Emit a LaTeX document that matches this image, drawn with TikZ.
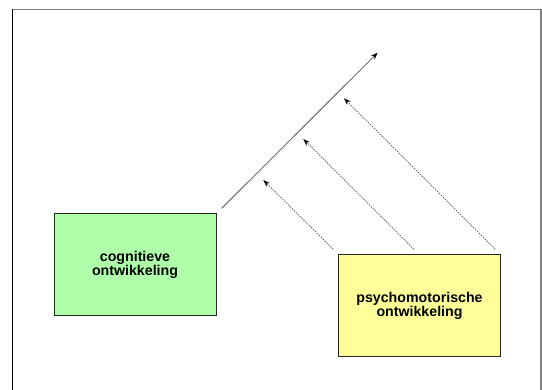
\documentclass[tikz,border=0pt]{standalone}
\usepackage{fontspec}
\setmainfont{Liberation Sans}
\usetikzlibrary{arrows.meta}
\usetikzlibrary{positioning}
\tikzset{box/.style = {draw=black!85, line width=1pt,
                       minimum width=162pt, minimum height=102pt,
                       inner sep=0pt, align=center,
                       font=\fontsize{14.2}{14.7}\selectfont\bfseries},
         growth/.style = {draw=black!65, line width=0.8pt,
                          -{Stealth[length=7pt, width=5pt, black]}},
         influence/.style = {draw=black!70, line width=0.7pt,
                             dash pattern=on 1.5pt off 1.2pt,
                             -{Stealth[length=7pt, width=5pt, black]}}}
\definecolor{mgreen}{RGB}{175, 255, 170}
\definecolor{myellow}{RGB}{255, 255, 153}

\begin{document}
\begin{tikzpicture}[x=1pt, y=-1pt]
    \useasboundingbox (0, 0) rectangle (542, 390);
    \draw [black!50, line width=1.5pt] (12.5, 9.5) -- (541, 9.5) -- (541, 395);
    \draw [black, line width=1.5pt] (12.5, 9.5) -- (12.5, 395);

    \node [box, fill=mgreen] (cognitief) at (135, 265) {cognitieve\\ontwikkeling};
    \node [box, fill=myellow] (psycho) at (419.5, 306) {psychomotorische\\ontwikkeling};

    \coordinate (start) at (221.7, 208.3);
    \coordinate (top) at (377.7, 52.7);
    \draw [growth] (start) -- (top);

    \coordinate (s1) at (333.3, 249.3);
    \coordinate (s2) at (414, 249.3);
    \coordinate (s3) at (495.3, 249.3);
    \coordinate (t1) at (263.3, 180);
    \coordinate (t2) at (303.3, 139);
    \coordinate (t3) at (344, 98.3);
    \foreach \i in {1, 2, 3}
        \draw [influence] (s\i) -- (t\i);
\end{tikzpicture}
\end{document}
